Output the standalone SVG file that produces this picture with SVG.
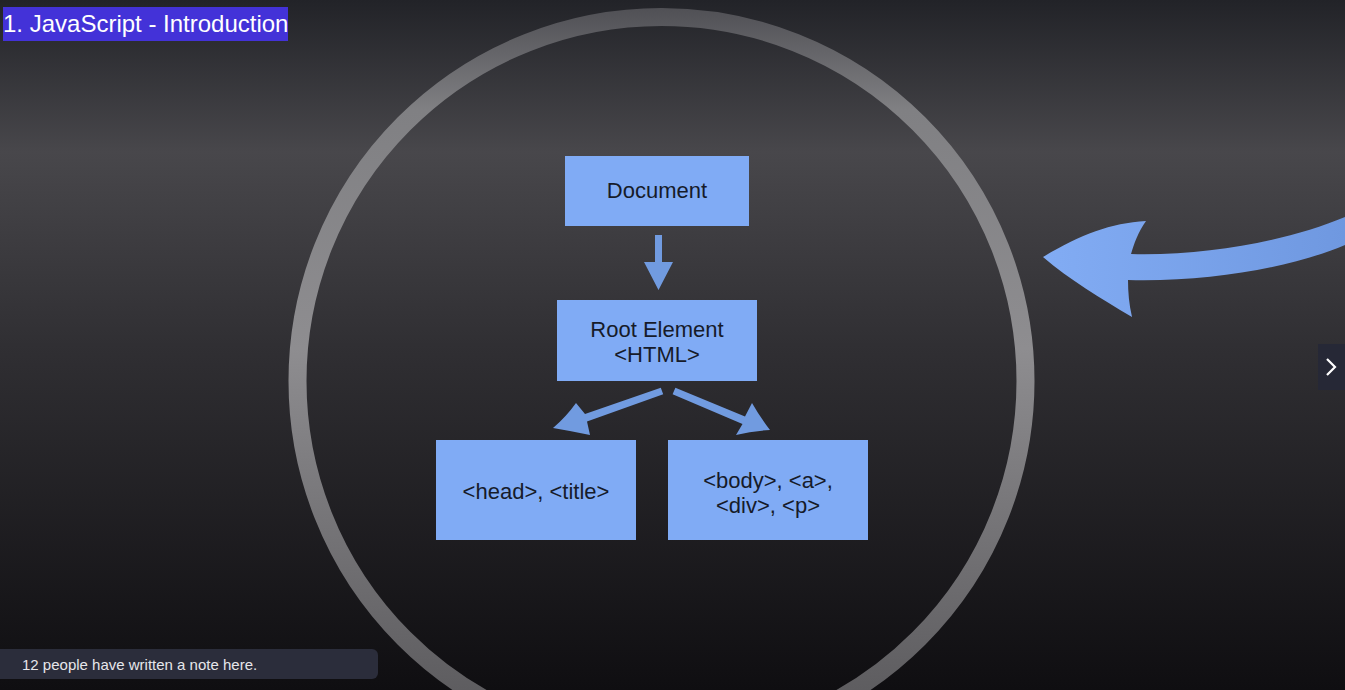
<svg xmlns="http://www.w3.org/2000/svg" width="1345" height="690" viewBox="0 0 1345 690">
<defs>
<linearGradient id="bg" x1="0" y1="0" x2="0" y2="1">
<stop offset="0" stop-color="#222328"/>
<stop offset="0.22" stop-color="#48474b"/>
<stop offset="0.5" stop-color="#302f33"/>
<stop offset="1" stop-color="#0f0e11"/>
</linearGradient>
<linearGradient id="ring" gradientUnits="userSpaceOnUse" x1="0" y1="8" x2="0" y2="690">
<stop offset="0" stop-color="#505055"/>
<stop offset="0.15" stop-color="#808083"/>
<stop offset="0.5" stop-color="#8e8d90"/>
<stop offset="1" stop-color="#5e5d60"/>
</linearGradient>
<linearGradient id="bigArrow" x1="1043" y1="0" x2="1345" y2="0" gradientUnits="userSpaceOnUse">
<stop offset="0" stop-color="#82acf4"/>
<stop offset="1" stop-color="#6f98e0"/>
</linearGradient>
<style>
.box{fill:#80abf5;}
.lbl{font-family:"Liberation Sans",Arial,sans-serif;font-size:22px;fill:#161b2a;text-anchor:middle;}
.conn{fill:#719be0;}
</style>
</defs>
<rect x="0" y="0" width="1345" height="690" fill="url(#bg)"/>
<circle cx="661.5" cy="381" r="364" fill="none" stroke="url(#ring)" stroke-width="18"/>

<g id="connectors">
<path class="conn" d="M655,235 L662,235 L662,262 L673,262 L658.5,290 L644,262 L655,262 Z"/>
<path class="conn" d="M660.8,387.7 L585,414 L576,403 Q566,417 553,428 Q571,431 590,435 L587,421.5 L663.2,394.3 Z"/>
<path class="conn" d="M675.4,387.8 L745,416.5 L752,403 Q760,417 770,430 Q752,431 736,435 L742.5,424 L672.6,394.2 Z"/>
<path fill="url(#bigArrow)" d="M1043,257 C1080,235 1110,223 1146,221 C1138,232 1134,244 1131,254 C1210,256 1290,240 1345,217 L1345,245 C1290,268 1210,282 1128,280 C1128,292 1129,304 1132,317 C1100,298 1070,280 1043,257 Z"/>
</g>

<g id="node-document">
<rect class="box" x="565" y="156" width="184" height="70"/>
<text class="lbl" x="657" y="198">Document</text>
</g>
<g id="node-root">
<rect class="box" x="557" y="300" width="200" height="81"/>
<text class="lbl" x="657" y="337">Root Element</text>
<text class="lbl" x="657" y="362">&lt;HTML&gt;</text>
</g>
<g id="node-head">
<rect class="box" x="436" y="440" width="200" height="100"/>
<text class="lbl" x="536" y="499">&lt;head&gt;, &lt;title&gt;</text>
</g>
<g id="node-body">
<rect class="box" x="668" y="440" width="200" height="100"/>
<text class="lbl" x="768" y="488">&lt;body&gt;, &lt;a&gt;,</text>
<text class="lbl" x="768" y="513">&lt;div&gt;, &lt;p&gt;</text>
</g>

<g id="title">
<rect x="3" y="7" width="285" height="34" fill="#4332d8"/>
<text x="3" y="32" font-family="Liberation Sans, Arial, sans-serif" font-size="24" fill="#ffffff">1. JavaScript - Introduction</text>
</g>

<g id="next-button">
<rect x="1318" y="344" width="27" height="46" fill="#262836"/>
<path d="M1327,359 L1335,367 L1327,375" fill="none" stroke="#ffffff" stroke-width="2.2"/>
</g>

<g id="note-bar">
<rect x="-8" y="649" width="386" height="30" rx="6" fill="#2b2d3b"/>
<text x="22" y="670" font-family="Liberation Sans, Arial, sans-serif" font-size="15" fill="#e6e6ea">12 people have written a note here.</text>
</g>
</svg>
